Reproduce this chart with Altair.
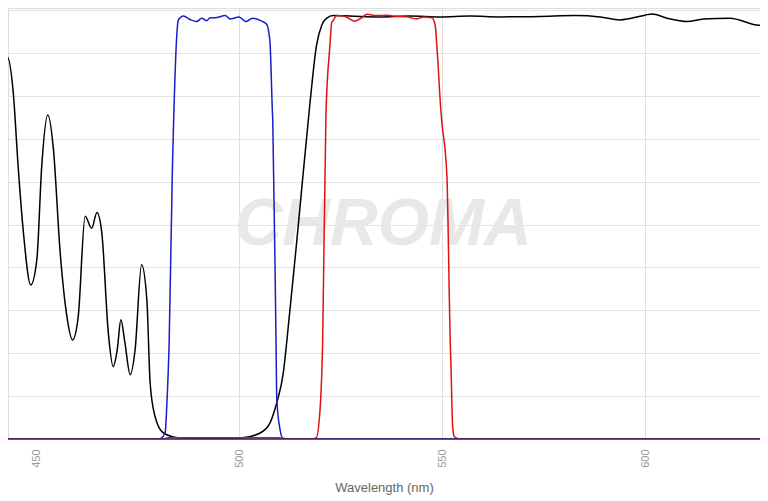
import altair as alt
import pandas as pd

# Black trace (nm, %T)
black_nm = [441.1, 442.9, 444.4, 445.6, 446.9, 448.7, 450.2, 451.4, 452.9, 454.3,
            455.9, 457.6, 459.0, 460.4, 462.1, 463.7, 465.0, 466.2, 467.8, 469.0,
            470.0, 470.9, 471.9, 473.2, 474.4, 476.0, 477.3, 478.1, 479.3, 481.4,
            485.5, 492.9, 500.3, 505.2, 507.6, 509.3, 510.9, 511.8, 514.6, 517.3,
            519.1, 520.4, 521.6, 523.2, 527.3, 534.7, 542.1, 549.5, 556.9, 564.3,
            574.1, 582.8, 588.9, 593.8, 600.0, 601.7, 605.4, 610.3, 614.4, 620.9,
            627.5, 630.3]
black_t = [68.2, 89.1, 80.7, 63.5, 48.1, 35.9, 41.8, 63.5, 75.5, 67.4,
           44.1, 28.6, 23.1, 28.6, 51.9, 49.1, 52.8, 48.1, 24.8, 16.9,
           20.8, 27.8, 22.4, 15.0, 20.8, 40.6, 32.4, 13.1, 5.3, 1.4,
           0.23, 0.15, 0.23, 1.4, 3.7, 8.5, 15.4, 23.1, 49.9, 76.7,
           91.9, 96.5, 98.1, 98.7, 98.6, 98.4, 98.6, 98.4, 98.6, 98.4,
           98.5, 98.7, 98.4, 97.7, 98.8, 99.1, 98.1, 97.3, 97.9, 98.1,
           96.5, 96.3]

# Blue trace
blue_nm = [441.0, 478.1, 480.5, 481.8, 482.2, 482.8, 483.6, 483.9, 484.7, 485.0,
           485.5, 486.3, 487.9, 489.6, 490.8, 492.0, 492.9, 494.1, 496.6, 497.8,
           500.0, 501.7, 503.3, 505.6, 506.8, 507.6, 508.2, 508.3, 509.1, 509.3,
           510.1, 510.8, 512.6, 631.0]
blue_t = [0.0, 0.0, 0.05, 1.5, 7.6, 23.1, 63.5, 74.4, 94.6, 97.5,
          98.2, 98.6, 97.8, 97.3, 98.1, 97.5, 98.2, 98.2, 98.7, 97.9,
          98.4, 97.3, 98.1, 97.4, 96.7, 92.8, 76.7, 74.4, 23.1, 9.2,
          2.2, 0.2, 0.0, 0.0]

# Red trace
red_nm = [441.0, 481.5, 482.5, 510.0, 511.0, 517.5, 519.0, 520.0, 520.6, 521.4,
          522.4, 522.8, 523.2, 524.1, 526.1, 528.6, 530.2, 531.5, 533.9, 536.4,
          538.0, 541.3, 543.8, 545.4, 547.5, 548.3, 548.7, 549.7, 549.9, 551.2,
          551.8, 552.0, 552.2, 552.6, 553.0, 553.6, 554.4, 631.0]
red_t = [0.0, 0.0, 0.3, 0.3, 0.0, 0.0, 0.23, 7.6, 23.1, 75.5,
         91.9, 97.0, 97.6, 98.7, 98.5, 97.4, 98.2, 99.0, 98.7, 98.8,
         98.6, 98.4, 97.9, 98.4, 98.2, 96.5, 91.9, 76.7, 74.4, 61.2,
         32.4, 23.1, 17.0, 3.0, 0.6, 0.2, 0.0, 0.0]

x_ticks = [450, 500, 550, 600]
y_grid = [0, 10, 20, 30, 40, 50, 60, 70, 80, 90, 100]

watermark_text = ["CHROMA"]
watermark_nm = [535.5]
watermark_t = [49.9]

rows = []
for name, xs, ys in (("black", black_nm, black_t), ("blue", blue_nm, blue_t), ("red", red_nm, red_t)):
    for i, (a, b) in enumerate(zip(xs, ys)):
        rows.append({"series": name, "nm": a, "t": b, "order": i})
df = pd.DataFrame(rows)

wm = pd.DataFrame({"nm": watermark_nm, "t": watermark_t, "label": watermark_text})
base_df = pd.DataFrame({"t": [0]})

xscale = alt.Scale(domain=[443.1, 628.3], nice=False, zero=False)
yscale = alt.Scale(domain=[0, 100.47], nice=False, zero=True)

xaxis = alt.Axis(
    values=x_ticks, labelAngle=270, labelColor="#999999", labelFontSize=11,
    labelFont="Liberation Sans", labelPadding=10, ticks=False, domain=False,
    grid=True, gridColor="#dedede", gridWidth=1,
    gridOpacity=alt.condition("datum.value == 450", alt.value(0), alt.value(1)),
    title="Wavelength (nm)", titleFont="Liberation Sans", titleFontSize=13,
    titleFontWeight="normal", titleColor="#666666", titlePadding=14,
)
yaxis = alt.Axis(values=y_grid, labels=False, ticks=False, domain=False,
                 title=None, grid=True, gridColor="#e3e3e3", gridWidth=1)

text = alt.Chart(wm).mark_text(
    font="Liberation Sans", fontSize=66, fontWeight="bold", fontStyle="italic",
    color="#e8e8e8", align="center", baseline="middle"
).encode(
    x=alt.X("nm:Q", scale=xscale, axis=xaxis),
    y=alt.Y("t:Q", scale=yscale, axis=yaxis),
    text="label:N",
)

def line(name, color):
    return alt.Chart(df).transform_filter(alt.datum.series == name).mark_line(
        color=color, strokeWidth=1.5, clip=True, interpolate="monotone"
    ).encode(
        x=alt.X("nm:Q", scale=xscale),
        y=alt.Y("t:Q", scale=yscale),
        order="order:Q",
    )

baseline = alt.Chart(base_df).mark_rule(color="#3a1f6e", strokeWidth=1.5).encode(
    y=alt.Y("t:Q", scale=yscale)
)

chart = alt.layer(
    text, line("black", "#000000"), line("blue", "#1c1cc8"), line("red", "#e01010"), baseline
).properties(
    width=752, height=431,
    padding={"left": 0, "top": 0, "right": 0, "bottom": 62},
    autosize=alt.AutoSizeParams(type="none"),
).configure_view(stroke=None).configure(background="white")

chart.save("out.html", embed_options={"renderer": "svg", "actions": False})
